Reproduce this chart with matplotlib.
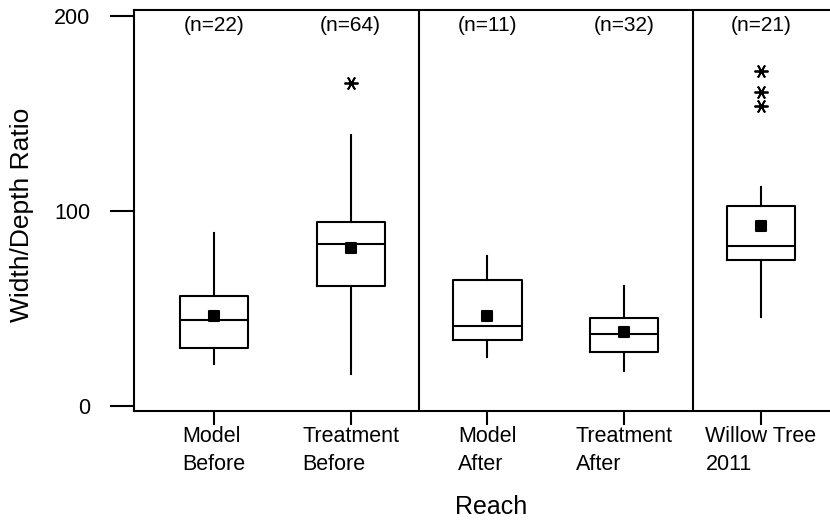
import matplotlib
matplotlib.use("Agg")
import matplotlib.pyplot as plt
from matplotlib.markers import MarkerStyle

plt.rcParams['font.family'] = ['Liberation Sans', 'DejaVu Sans']

# ---- data ----
categories = ["Model\nBefore", "Treatment\nBefore", "Model\nAfter", "Treatment\nAfter", "Willow Tree\n2011"]
n_labels = ["(n=22)", "(n=64)", "(n=11)", "(n=32)", "(n=21)"]
whisker_low = [21.4, 16.3, 25.3, 18.1, 45.8]
q1_vals = [29.9, 61.4, 33.8, 27.7, 74.7]
medians = [44.3, 83.2, 41.0, 37.1, 82.1]
q3_vals = [56.4, 94.2, 64.6, 45.1, 102.6]
whisker_high = [88.5, 139.0, 77.1, 61.7, 112.5]
means = [46.3, 80.9, 46.3, 37.9, 92.3]
outliers = [[], [165.5], [], [], [172.0, 161.2, 154.0]]
y_ticks = [0, 100, 200]

fig = plt.figure(figsize=(8.3, 5.2), dpi=100)
ax = fig.add_axes([134 / 830, 1 - 411 / 520, (830 - 134) / 830, (411 - 10) / 520])

stats = []
for i in range(len(categories)):
    stats.append(dict(med=medians[i], q1=q1_vals[i], q3=q3_vals[i],
                      whislo=whisker_low[i], whishi=whisker_high[i],
                      mean=means[i], fliers=outliers[i], label=categories[i]))

positions = list(range(1, len(categories) + 1))
lw = 1.5
ax.bxp(stats, positions=positions, widths=0.5, showcaps=False, showmeans=True,
       showfliers=True, patch_artist=False,
       boxprops=dict(color='black', linewidth=lw),
       medianprops=dict(color='black', linewidth=lw),
       whiskerprops=dict(color='black', linewidth=lw),
       meanprops=dict(marker=MarkerStyle('s', joinstyle='round'), markerfacecolor='black',
                      markeredgecolor='black', markersize=7.5, markeredgewidth=1.5),
       flierprops=dict(marker=(6, 2, 90), markeredgecolor='black', markerfacecolor='black',
                       markersize=10, markeredgewidth=1.3, linestyle='none'))

# group separators
for xs in (2.5, 4.5):
    ax.axvline(xs, color='black', linewidth=lw)

for x, lab in zip(positions, n_labels):
    ax.text(x, 195.3, lab, ha='center', va='center', fontsize=15)

ax.set_xlim(0.415, 5.505)
ax.set_ylim(-2.56, 203.08)
ax.set_yticks(y_ticks)
ax.set_yticklabels([str(v) for v in y_ticks], fontsize=15.5)
ax.set_xticks(positions)
ax.set_xticklabels(categories, fontsize=15.5, linespacing=1.4, multialignment='left')

ax.tick_params(axis='y', length=17.3, width=lw, pad=14)
ax.tick_params(axis='x', length=10, width=lw, pad=1)
for s in ('left', 'bottom', 'top'):
    ax.spines[s].set_linewidth(lw)
ax.spines['right'].set_visible(False)

fig.text(491 / 830, 1 - 507 / 520, "Reach", ha='center', va='center', fontsize=18)
fig.text(22 / 830, 1 - 215 / 520, "Width/Depth Ratio", ha='center', va='center',
         rotation=90, fontsize=19)

fig.savefig("out.png", dpi=100)
